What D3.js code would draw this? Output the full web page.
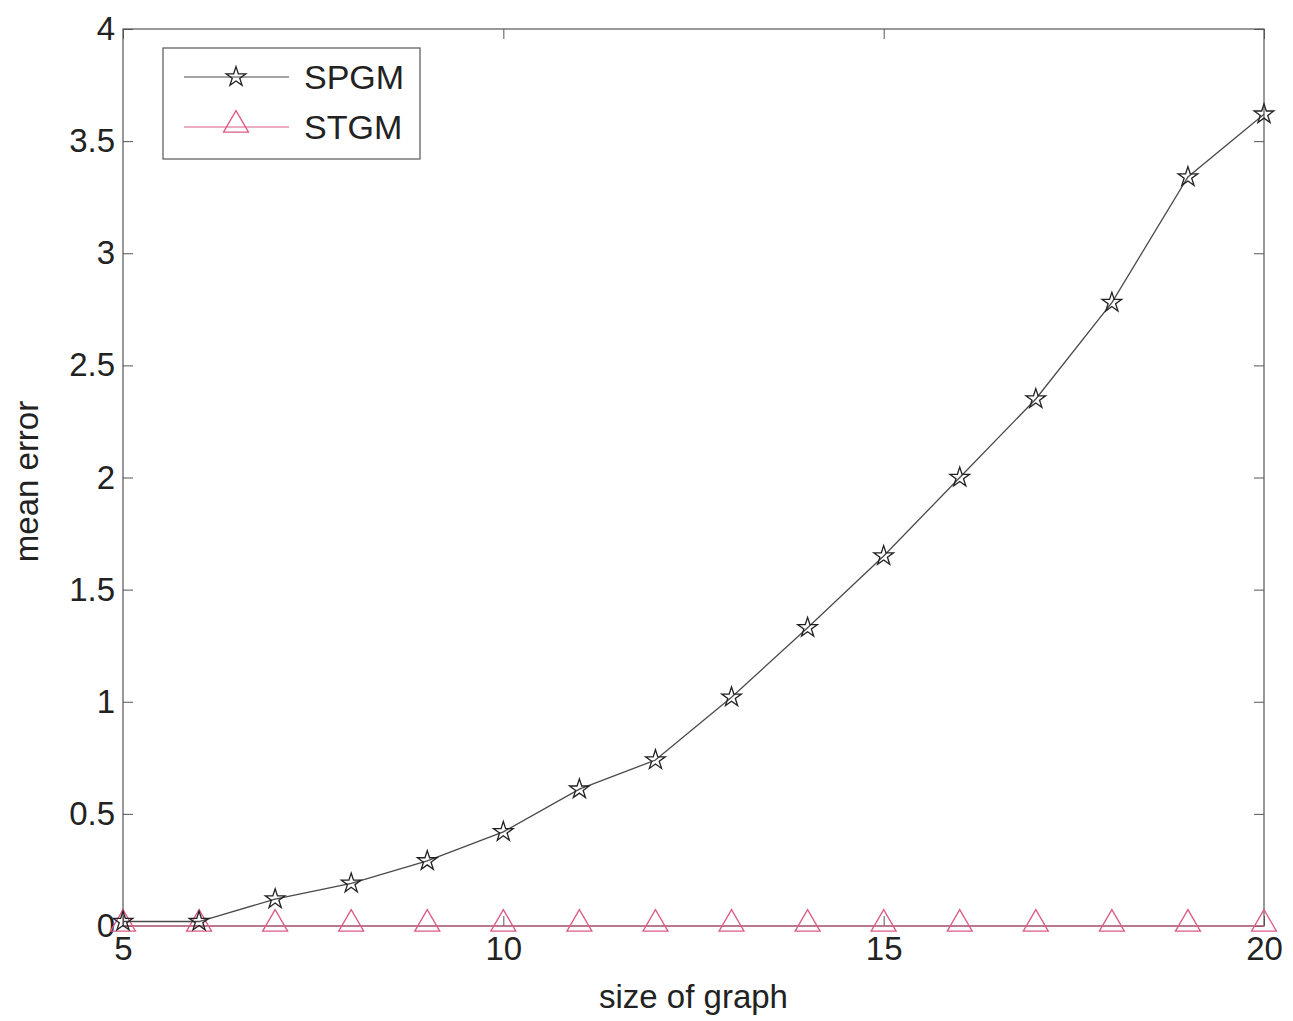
<!DOCTYPE html>
<html>
<head>
<meta charset="utf-8">
<script src="https://cdn.jsdelivr.net/npm/d3@7"></script>
<style>
  body { margin: 0; background: #fff; }
  text { font-family: "Liberation Sans", Arial, sans-serif; fill: #222; }
</style>
</head>
<body>
<svg class="chart" width="1293" height="1021"></svg>
<script>
const sizes = [5, 6, 7, 8, 9, 10, 11, 12, 13, 14, 15, 16, 17, 18, 19, 20];
const spgm = [0.02, 0.02, 0.12, 0.19, 0.29, 0.42, 0.61, 0.74, 1.02, 1.33, 1.65, 2.0, 2.35, 2.78, 3.34, 3.62];
const stgm = [0, 0, 0, 0, 0, 0, 0, 0, 0, 0, 0, 0, 0, 0, 0, 0];
const xTicks = [5, 10, 15, 20];
const yTicks = [0, 0.5, 1, 1.5, 2, 2.5, 3, 3.5, 4];

const svg = d3.select(".chart");
const margin = { top: 29, right: 29, bottom: 95, left: 123 };
const width = 1293;
const height = 1021;
const graphWidth = width - margin.left - margin.right;
const graphHeight = height - margin.top - margin.bottom;

const lineGray = "#4a4a4a";
const pink = "#dc5a86";
const fontSize = "33px";

const xScale = d3.scaleLinear().domain([5, 20]).range([0, graphWidth]);
const yScale = d3.scaleLinear().domain([0, 4]).range([graphHeight, 0]);

const graph = svg.append("g")
  .attr("transform", `translate(${margin.left}, ${margin.top})`);

// box
graph.append("rect")
  .attr("width", graphWidth)
  .attr("height", graphHeight)
  .attr("fill", "none")
  .attr("stroke", "#555")
  .attr("stroke-width", 1.2);

// axes, ticks pointing inward
const fmt = d => d3.format("~g")(d);
const xAxis = d3.axisBottom(xScale).tickValues(xTicks).tickSize(-10).tickPadding(14).tickFormat(fmt);
const yAxis = d3.axisLeft(yScale).tickValues(yTicks).tickSize(-10).tickPadding(8).tickFormat(fmt);

const xAxisG = graph.append("g")
  .attr("transform", `translate(0, ${graphHeight})`)
  .call(xAxis);
const yAxisG = graph.append("g").call(yAxis);

[xAxisG, yAxisG].forEach(g => {
  g.select(".domain").remove();
  g.selectAll(".tick line").attr("stroke", "#555");
  g.selectAll(".tick text")
    .style("font-size", fontSize)
    .style("font-family", "Liberation Sans, Arial, sans-serif")
    .attr("fill", "#222");
});
xAxisG.selectAll(".tick text").attr("dy", "0.6em");

// mirrored ticks on top and right
graph.append("g")
  .call(d3.axisTop(xScale).tickValues(xTicks).tickSize(-10).tickFormat(""))
  .call(g => g.select(".domain").remove())
  .selectAll(".tick line").attr("stroke", "#555");
graph.append("g")
  .attr("transform", `translate(${graphWidth}, 0)`)
  .call(d3.axisRight(yScale).tickValues(yTicks).tickSize(-10).tickFormat(""))
  .call(g => g.select(".domain").remove())
  .selectAll(".tick line").attr("stroke", "#555");

// axis titles
graph.append("text")
  .attr("x", xScale(12.5))
  .attr("y", graphHeight + 82)
  .attr("text-anchor", "middle")
  .style("font-size", fontSize)
  .text("size of graph");

svg.append("text")
  .attr("transform", `translate(38, ${margin.top + yScale(2) + 4}) rotate(-90)`)
  .attr("text-anchor", "middle")
  .style("font-size", fontSize)
  .text("mean error");

const line = d3.line()
  .x((d, i) => xScale(sizes[i]))
  .y(d => yScale(d));

const star = d3.symbol().type(d3.symbolStar).size(120);
const tri = d3.symbol().type(d3.symbolTriangle).size(270);

// STGM
graph.append("path")
  .datum(stgm)
  .attr("d", line)
  .attr("fill", "none")
  .attr("stroke", pink)
  .attr("stroke-width", 1.2);

graph.selectAll(".tri")
  .data(stgm)
  .enter()
  .append("path")
  .attr("class", "tri")
  .attr("transform", (d, i) => `translate(${xScale(sizes[i])}, ${yScale(d) - 2})`)
  .attr("d", tri)
  .attr("fill", "none")
  .attr("stroke", pink)
  .attr("stroke-width", 1.3);

// SPGM
graph.append("path")
  .datum(spgm)
  .attr("d", line)
  .attr("fill", "none")
  .attr("stroke", lineGray)
  .attr("stroke-width", 1.3);

graph.selectAll(".star")
  .data(spgm)
  .enter()
  .append("path")
  .attr("class", "star")
  .attr("transform", (d, i) => `translate(${xScale(sizes[i])}, ${yScale(d)})`)
  .attr("d", star)
  .attr("fill", "none")
  .attr("stroke", "#222")
  .attr("stroke-width", 1.3);

// legend
const legend = svg.append("g").attr("transform", "translate(163, 48)");
legend.append("rect")
  .attr("width", 257)
  .attr("height", 111)
  .attr("fill", "#fff")
  .attr("stroke", "#555")
  .attr("stroke-width", 1.2);

const legendItems = [
  { name: "SPGM", color: lineGray, marker: star, mcolor: "#222", y: 29 },
  { name: "STGM", color: pink, marker: tri, mcolor: pink, y: 79 }
];

legendItems.forEach(it => {
  legend.append("line")
    .attr("x1", 21).attr("x2", 126)
    .attr("y1", it.y).attr("y2", it.y)
    .attr("stroke", it.color)
    .attr("stroke-width", 1.2);
  legend.append("path")
    .attr("transform", `translate(73, ${it.y - (it.name === "STGM" ? 2 : 0)})`)
    .attr("d", it.marker)
    .attr("fill", "none")
    .attr("stroke", it.mcolor)
    .attr("stroke-width", 1.3);
  legend.append("text")
    .attr("x", 141)
    .attr("y", it.y + 12)
    .style("font-size", "34px")
    .text(it.name);
});
</script>
</body>
</html>
